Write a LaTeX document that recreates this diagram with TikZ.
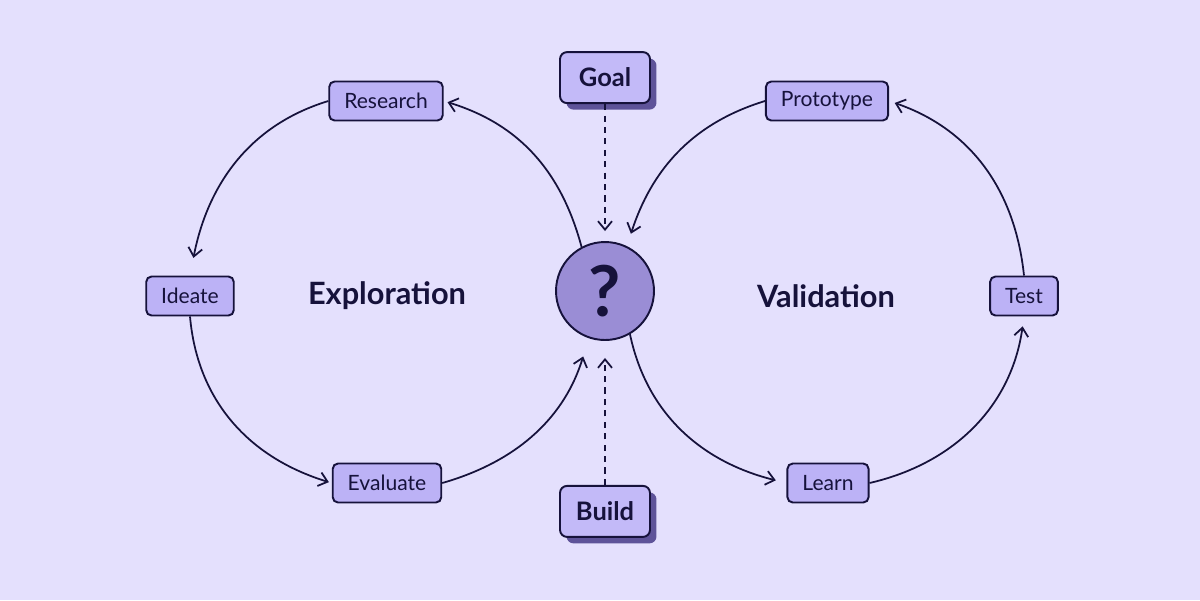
\documentclass[tikz,border=0pt]{standalone}
\usepackage{fontspec}
\setmainfont{Lato}
\usepackage{xcolor}
\usetikzlibrary{positioning}
\usetikzlibrary{arrows.meta,shadows}

\definecolor{bgCol}{HTML}{E4E0FD}
\definecolor{stepCol}{HTML}{BCB2F6}
\definecolor{goalCol}{HTML}{C3BAF8}
\definecolor{shadowCol}{HTML}{5E5399}
\definecolor{ballCol}{HTML}{9A8DD5}
\definecolor{inkCol}{HTML}{16123B}

\begin{document}
\begin{tikzpicture}[x=0.02cm, y=0.02cm, >={Straight Barb[length=1.7mm, width=2.8mm]}]
            % Set primary nodes
            \tikzset{
                stepNode/.style={
                        draw=inkCol,
                        fill=stepCol,
                        rectangle,
                        rounded corners=3pt,
                        line width=1.1pt,
                        minimum height=0.78cm,
                        inner xsep=0.3cm,
                        text=inkCol,
                        font=\fontsize{12}{14}\selectfont
                    }
            }
            \tikzset{
                goalNode/.style={
                        draw=inkCol,
                        fill=goalCol,
                        rectangle,
                        rounded corners=4pt,
                        line width=1.1pt,
                        minimum height=1.02cm,
                        minimum width=1.8cm,
                        text=inkCol,
                        font=\fontsize{14.5}{16}\selectfont\bfseries,
                        drop shadow={shadow xshift=0.13cm, shadow yshift=-0.13cm, fill=shadowCol, opacity=1}
                    }
            }
            \tikzset{
                ballNode/.style={
                        draw=inkCol,
                        fill=ballCol,
                        circle,
                        line width=1.1pt,
                        minimum size=1.96cm,
                        inner sep=0pt,
                        text=inkCol,
                        font=\fontsize{40}{42}\selectfont\bfseries
                    }
            }
            \tikzset{
                titleNode/.style={
                        text=inkCol,
                        font=\fontsize{17.5}{19}\selectfont\bfseries
                    }
            }
            % Configure arrows
            \tikzstyle{arc} = [draw=inkCol, line width=1pt, ->]
            \tikzstyle{dashline} = [draw=inkCol, line width=1pt, dash pattern=on 3.5pt off 3pt, ->]
            % Background
            \fill[bgCol] (0,0) rectangle (1200,-600);
            % Placing nodes
            \node[ballNode](q) at (605,-291){?};
            \node[goalNode, above = 2.74cm of q](goal){Goal};
            \node[goalNode, below = 2.88cm of q](build){Build};
            \node[titleNode](exploration) at (387,-296){Exploration};
            \node[titleNode](validation) at (826,-296){Validation};
            \node[stepNode](research) at (386,-101){Research};
            \node[stepNode](ideate) at (190,-296){Ideate};
            \node[stepNode](evaluate) at (387,-483){Evaluate};
            \node[stepNode](prototype) at (827,-101){Prototype};
            \node[stepNode](test) at (1024,-296){Test};
            \node[stepNode](learn) at (828,-483){Learn};
            % Draw arrows
            \draw[dashline, shorten >=0.2cm](goal.south) -- (q.north);
            \draw[dashline, shorten >=0.34cm](build.north) -- (q.south);
            \draw[arc, shorten >=0.08cm](q.118) to[out=105, in=-17] (research.east);
            \draw[arc, shorten >=0.36cm](research.west) to[out=197, in=79] (ideate.north);
            \draw[arc, shorten >=0.06cm](ideate.south) to[out=275, in=163] (evaluate.west);
            \draw[arc, shorten >=0.38cm](evaluate.east) to[out=16, in=253] (q.251);
            \draw[arc, shorten >=0.22cm](q.-60) to[out=282, in=166] (learn.west);
            \draw[arc, shorten >=0.2cm](learn.east) to[out=13, in=262] (test.south);
            \draw[arc, shorten >=0.12cm](test.north) to[out=96, in=-19] (prototype.east);
            \draw[arc, shorten >=0.26cm](prototype.west) to[out=197, in=72] (q.64);
        \end{tikzpicture}
\end{document}
